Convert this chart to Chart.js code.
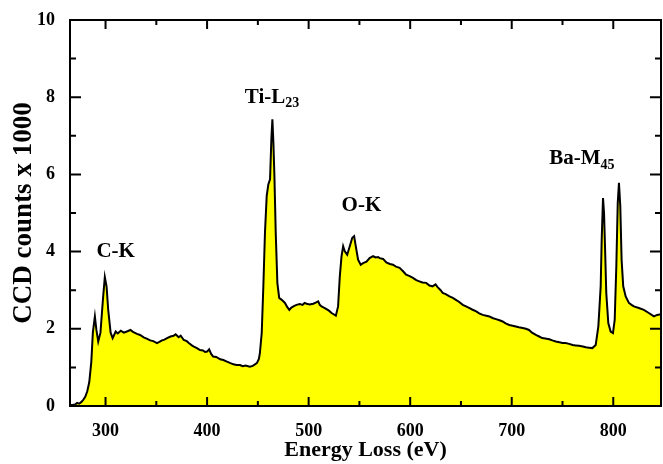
<!DOCTYPE html>
<html>
<head>
<meta charset="utf-8">
<script src="https://cdn.jsdelivr.net/npm/chart.js@4.4.1/dist/chart.umd.min.js"></script>
<style>
  html, body { margin: 0; padding: 0; background: #fff; }
  canvas { display: block; }
</style>
</head>
<body>
<canvas id="eels" width="663" height="464"></canvas>
<script>
// energy loss (eV) and CCD counts (x1000)
const energy = [
  265, 268, 270, 272, 274, 276, 278, 280, 282, 284, 286, 287.5, 289.5, 291, 292.8, 295, 297.4, 299.3,
  301, 302.6, 305, 307, 310, 312, 315, 318, 321, 324.5, 327, 331, 334, 337.6, 341, 344, 347, 350.7,
  353, 355.6, 358, 360.6, 364, 367, 369, 372, 374, 377, 380, 382, 385, 387, 390, 393, 396, 398, 400,
  402, 404, 406, 409, 413, 416, 419.5, 423, 426, 429, 432.5, 435, 438, 442, 445, 449, 451, 452, 453.8,
  455.4, 457, 458.7, 460.3, 462, 463.3, 464.3, 465.3, 466.3, 467.6, 469.2, 471, 473.5, 476.7, 479, 481,
  483, 485, 488, 491.4, 494, 496, 498, 501, 504.5, 507, 509.4, 511, 512.7, 515, 517.6, 520, 522.6, 525,
  526.8, 529, 530.7, 532.4, 534, 535.6, 538, 540.5, 543, 544.8, 546.4, 548.7, 551.3, 553.6, 557, 560,
  563.5, 566, 568.3, 570, 573.3, 576.5, 580, 583, 586, 589.6, 593, 596, 599, 602.7, 606, 609, 612,
  615.8, 619, 622, 625, 627, 630, 632, 635, 638.7, 642, 645, 648, 651.8, 655, 658, 661, 665, 668,
  671.4, 675, 678, 681, 684.5, 688, 691, 694, 697.6, 701, 704, 707, 710.7, 714, 717, 720, 723.8, 727,
  730, 733, 737, 740, 743.4, 747, 750, 753, 756.5, 760, 763, 766.3, 770, 772.9, 776, 779.4, 782.7,
  785.3, 787.6, 788.6, 789.9, 790.9, 791.9, 793.1, 795.1, 797.4, 799.7, 801.4, 803, 804.4, 805.6,
  806.9, 808.2, 809.8, 812.2, 815.4, 818, 820.3, 825.2, 830.1, 835, 840, 843.2, 847
];
const counts = [
  0.02, 0.03, 0.04, 0.08, 0.06, 0.10, 0.16, 0.24, 0.38, 0.62, 1.15, 1.90, 2.32, 1.97, 1.67, 1.90, 2.75, 3.34,
  3.10, 2.50, 1.90, 1.76, 1.93, 1.88, 1.95, 1.90, 1.93, 1.97, 1.92, 1.87, 1.84, 1.78, 1.74, 1.70, 1.68, 1.63,
  1.66, 1.70, 1.72, 1.76, 1.80, 1.82, 1.86, 1.78, 1.82, 1.71, 1.68, 1.63, 1.57, 1.54, 1.50, 1.45, 1.44, 1.40, 1.41,
  1.47, 1.35, 1.28, 1.27, 1.21, 1.19, 1.15, 1.11, 1.08, 1.06, 1.06, 1.03, 1.05, 1.02, 1.04, 1.11, 1.22, 1.37, 1.89,
  3.10, 4.49, 5.44, 5.74, 5.87, 6.91, 7.43, 6.82, 5.96, 4.49, 3.19, 2.80, 2.75, 2.67, 2.56, 2.49,
  2.55, 2.58, 2.62, 2.64, 2.62, 2.67, 2.65, 2.63, 2.65, 2.68, 2.71, 2.62, 2.58, 2.55, 2.51, 2.47, 2.41, 2.37,
  2.34, 2.58, 3.36, 3.88, 4.14, 4.01, 3.92, 4.14, 4.36, 4.40, 4.14, 3.79, 3.66, 3.70, 3.74, 3.83,
  3.88, 3.85, 3.86, 3.83, 3.81, 3.72, 3.68, 3.66, 3.61, 3.58, 3.49, 3.40, 3.37, 3.32, 3.26, 3.23, 3.20,
  3.19, 3.12, 3.10, 3.15, 3.08, 3.00, 2.93, 2.90, 2.84, 2.80, 2.75, 2.70, 2.62, 2.58, 2.54, 2.50, 2.45, 2.40,
  2.36, 2.34, 2.32, 2.28, 2.25, 2.22, 2.19, 2.14, 2.10, 2.08, 2.06, 2.04, 2.02, 2.00, 1.97, 1.90, 1.84, 1.80,
  1.76, 1.75, 1.73, 1.70, 1.67, 1.65, 1.63, 1.63, 1.61, 1.58, 1.57, 1.56, 1.54, 1.52, 1.51, 1.50, 1.58,
  2.06, 3.10, 4.31, 5.39, 5.00, 4.10, 2.93, 2.15, 1.93, 1.89, 2.23, 3.62, 5.26, 5.78,
  5.18, 3.79, 3.10, 2.84, 2.67, 2.62, 2.58, 2.54, 2.49, 2.41, 2.32, 2.36, 2.38
];

const xMajor = [300, 400, 500, 600, 700, 800];
const xMinor = [350, 450, 550, 650, 750];
const yMajor = [0, 2, 4, 6, 8, 10];
const yMinor = [1, 3, 5, 7, 9];

// edge labels: text, subscript, anchor (eV, counts)
const edgeNames = ["C-K", "Ti-L", "O-K", "Ba-M"];
const edgeSubs = ["", "23", "", "45"];
const edgeAtX = [310, 464, 552, 769];
const edgeAtY = [4.0, 8.0, 5.2, 6.4];

const serif = "'Liberation Serif', 'Times New Roman', serif";

const frameTicks = {
  id: "frameTicks",
  afterDraw(chart) {
    const { ctx, chartArea: a, scales: { x, y } } = chart;
    ctx.save();
    ctx.strokeStyle = "#000";
    ctx.lineWidth = 2;
    ctx.strokeRect(a.left, a.top, a.right - a.left, a.bottom - a.top);
    ctx.beginPath();
    const xt = (v, len) => {
      const px = x.getPixelForValue(v);
      ctx.moveTo(px, a.bottom); ctx.lineTo(px, a.bottom - len);
      ctx.moveTo(px, a.top); ctx.lineTo(px, a.top + len);
    };
    const yt = (v, len) => {
      const py = y.getPixelForValue(v);
      ctx.moveTo(a.left, py); ctx.lineTo(a.left + len, py);
      ctx.moveTo(a.right, py); ctx.lineTo(a.right - len, py);
    };
    xMajor.forEach(v => xt(v, 9));
    xMinor.forEach(v => xt(v, 5));
    yMajor.forEach(v => yt(v, 11));
    yMinor.forEach(v => yt(v, 6));
    ctx.stroke();

    ctx.fillStyle = "#000";
    ctx.textBaseline = "middle";
    edgeNames.forEach((name, i) => {
      const px = x.getPixelForValue(edgeAtX[i]);
      const py = y.getPixelForValue(edgeAtY[i]);
      ctx.font = "bold 21px " + serif;
      const w1 = ctx.measureText(name).width;
      ctx.font = "bold 14px " + serif;
      const w2 = edgeSubs[i] ? ctx.measureText(edgeSubs[i]).width : 0;
      const left = px - (w1 + w2) / 2;
      ctx.font = "bold 21px " + serif;
      ctx.textAlign = "left";
      ctx.fillText(name, left, py);
      if (edgeSubs[i]) {
        ctx.font = "bold 14px " + serif;
        ctx.fillText(edgeSubs[i], left + w1, py + 6);
      }
    });
    ctx.restore();
  }
};

new Chart(document.getElementById("eels"), {
  type: "line",
  data: {
    datasets: [{
      data: energy.map((e, i) => ({ x: e, y: counts[i] })),
      borderColor: "#000",
      borderWidth: 2,
      backgroundColor: "#ffff00",
      fill: "origin",
      pointRadius: 0,
      tension: 0
    }]
  },
  options: {
    responsive: false,
    animation: false,
    layout: { padding: { top: 20, right: 2, bottom: 0, left: 0 } },
    plugins: { legend: { display: false }, tooltip: { enabled: false } },
    scales: {
      x: {
        type: "linear",
        min: 265,
        max: 847,
        afterBuildTicks: s => { s.ticks = xMajor.map(v => ({ value: v })); },
        afterFit: s => { s.height = 58; },
        grid: { display: false },
        border: { display: false },
        ticks: { color: "#000", padding: 7, font: { family: serif, size: 18, weight: "bold" } },
        title: { display: true, text: "Energy Loss (eV)", color: "#000", padding: 0,
                 font: { family: serif, size: 22, weight: "bold" } }
      },
      y: {
        min: 0,
        max: 10,
        afterBuildTicks: s => { s.ticks = yMajor.map(v => ({ value: v })); },
        afterFit: s => { s.width = 70; },
        grid: { display: false },
        border: { display: false },
        ticks: { color: "#000", padding: 7, font: { family: serif, size: 18, weight: "bold" } },
        title: { display: true, text: "CCD counts x 1000", color: "#000", padding: { top: 8 },
                 font: { family: serif, size: 27, weight: "bold" } }
      }
    }
  },
  plugins: [frameTicks]
});
</script>
</body>
</html>
